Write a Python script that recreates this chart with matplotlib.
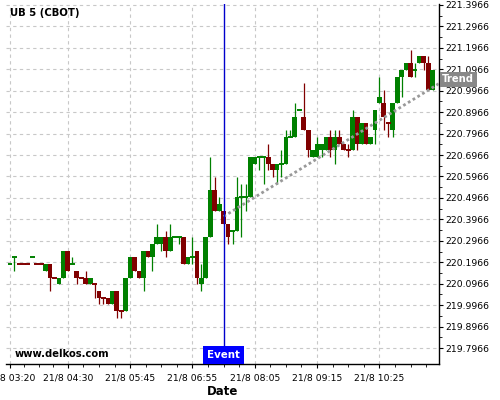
import matplotlib
matplotlib.use("Agg")
import matplotlib.pyplot as plt
import matplotlib.transforms as mtransforms
import numpy as np

# UB 5 (CBOT), 5 minute candles on 21/8, prices in 32nds above 220
opens = [6, 7, 6, 6, 6, 7, 6, 6, 5, 6,
         4, 3, 4, 8, 6, 5, 4, 4, 3, 3,
         2, 1, 1, 0, 2, -1, -1, 4, 7, 5,
         4, 8, 7, 9, 9, 10, 8, 10, 10, 10,
         6, 7, 8, 3, 4, 10, 17, 14, 14, 12,
         11, 11, 16, 16, 16, 21, 22, 22, 22, 21,
         20, 21, 21, 25, 25, 29, 28, 26, 22, 22,
         23, 23, 25, 23, 25, 24, 23, 23, 28, 24,
         27, 24, 26, 30, 30, 27, 26, 30, 34, 35,
         36, 35, 36, 37, 36, 32]
highs = [6, 7, 6, 6, 6, 7, 6, 6, 6, 6,
         4, 4, 8, 8, 7, 5, 4, 5, 4, 3,
         2, 1, 1, 2, 2, -1, 4, 7, 7, 5,
         8, 8, 9, 12, 10, 11, 12, 10, 10, 10,
         7, 10, 8, 6, 10, 22, 19, 16, 14, 12,
         11, 19, 18, 18, 22, 22, 22, 22, 24, 21,
         21, 23, 26, 26, 30, 29, 33, 26, 23, 25,
         24, 25, 26, 26, 26, 24, 24, 29, 28, 27,
         27, 25, 29, 34, 32, 27, 30, 34, 35, 36,
         38, 36, 37, 37, 37, 35]
lows = [6, 5, 6, 6, 6, 7, 6, 6, 5, 2,
        4, 3, 4, 5, 6, 3, 4, 3, 3, 1,
        0, 0, 0, 0, -2, -2, -1, 4, 5, 4,
        2, 7, 5, 9, 8, 7, 8, 10, 9, 6,
        6, 6, 3, 2, 4, 10, 14, 14, 12, 9,
        9, 11, 10, 14, 16, 21, 20, 18, 20, 19,
        18, 19, 21, 25, 25, 29, 26, 22, 22, 22,
        22, 23, 22, 21, 24, 23, 22, 23, 23, 24,
        24, 24, 24, 30, 26, 25, 25, 30, 31, 35,
        34, 34, 36, 35, 32, 32]
closes = [6, 7, 6, 6, 6, 7, 6, 6, 6, 4,
          4, 4, 8, 5, 6, 4, 4, 3, 4, 3,
          1, 1, 0, 2, -1, -1, 4, 7, 5, 4,
          8, 7, 9, 10, 10, 8, 10, 10, 10, 6,
          7, 7, 4, 4, 10, 17, 14, 15, 12, 10,
          11, 16, 16, 16, 22, 22, 22, 22, 21, 20,
          21, 21, 25, 25, 28, 29, 26, 23, 23, 24,
          24, 25, 23, 25, 24, 23, 23, 28, 24, 27,
          24, 25, 29, 31, 28, 27, 30, 34, 35, 36,
          34, 35, 37, 36, 32, 35]
# g = up candle, r = down candle (also colours the flat ones)
direction = ("ggrrrgrrgr" "rggrgrrrgr" "rrrgrrggrr" "grgggrgggr" "ggrgggrgrr"
             "ggggggggrr" "ggggggrrgg" "ggrgrrrgrg" "rgggrrgggg" "rggrrg")

tick_pos = [0, 13, 27, 41, 55, 69, 83]
tick_labels = ['21/8 03:20', '21/8 04:30', '21/8 05:45', '21/8 06:55',
               '21/8 08:05', '21/8 09:15', '21/8 10:25']
y_ticks = [219.7966 + 0.1 * k for k in range(17)]

event_idx = 48
trend_x = [48, 96.4]
trend_y = [220.41, 221.03]
trend_label_y = 221.049


def to_price(v):
    return 220 + np.asarray(v, dtype=float) / 32.0


fig = plt.figure(figsize=(5, 4), dpi=100)
ax = fig.add_axes([0.012, 0.09, 0.866, 0.9])

o, h, l, c = to_price(opens), to_price(highs), to_price(lows), to_price(closes)
x = np.arange(len(opens))
cols = ['#008000' if d == 'g' else '#800000' for d in direction]
w = 1.08

ax.vlines(x, l, h, colors=cols, linewidth=0.9, zorder=3)
body = np.abs(c - o)
flat = body == 0
ax.bar(x[~flat], body[~flat], bottom=np.minimum(o, c)[~flat], width=w,
       color=np.array(cols)[~flat], linewidth=0, zorder=4)
ax.hlines(c[flat], x[flat] - w / 2, x[flat] + w / 2,
          colors=np.array(cols)[flat], linewidth=1.4, zorder=4)

# trend and event
ax.plot(trend_x, trend_y, color='#999999', linewidth=2.0,
        linestyle=(0, (1, 1)), zorder=5)
ax.axvline(event_idx, color='#0000cc', linewidth=1.0, zorder=6)

ax.set_xlim(-0.9, 96.4)
ax.set_ylim(219.722, 221.401)

ax.set_xticks(tick_pos)
ax.set_xticklabels(tick_labels, fontsize=6.7)
minor = []
for a, b in zip(tick_pos[:-1], tick_pos[1:]):
    minor += [a + (b - a) * f for f in (0.25, 0.5, 0.75)]
minor += [83 + 14 * f for f in (0.25, 0.5, 0.75)]
ax.set_xticks(minor, minor=True)

ax.yaxis.tick_right()
ax.set_yticks(y_ticks)
ax.set_yticklabels([f'{v:.4f}' for v in y_ticks], fontsize=6.7)
ax.set_yticks([v + 0.05 for v in y_ticks[:-1]], minor=True)
ax.tick_params(axis='both', which='major', length=3, width=0.8, pad=1.5)
ax.tick_params(axis='x', which='major', pad=3.5)
ax.tick_params(axis='both', which='minor', length=2, width=0.6)

ax.grid(True, which='major', color='#c8c8c8', linestyle=(0, (3, 3)), linewidth=0.8)
ax.set_axisbelow(True)
for side in ('left', 'top'):
    ax.spines[side].set_visible(False)
ax.spines['bottom'].set_linewidth(1.0)
ax.spines['right'].set_linewidth(1.0)

ax.set_xlabel('Date', fontsize=8.5, fontweight='bold', labelpad=2)

ax.text(0.01, 0.975, 'UB 5 (CBOT)', transform=ax.transAxes, fontsize=7.3,
        fontweight='bold', ha='left', va='center')
ax.text(0.021, 0.028, 'www.delkos.com', transform=ax.transAxes, fontsize=7.2,
        fontweight='bold', ha='left', va='center')

tx = mtransforms.blended_transform_factory(ax.transData, ax.transAxes)
ax.text(event_idx, 0.011, 'Event', transform=tx, fontsize=7.4, fontweight='bold',
        color='white', ha='center', va='bottom', zorder=7,
        bbox=dict(boxstyle='square,pad=0.38', facecolor='#0000ff', edgecolor='none'))

ty = mtransforms.blended_transform_factory(ax.transAxes, ax.transData)
ax.text(1.007, trend_label_y, 'Trend', transform=ty, fontsize=7.2, fontweight='bold',
        color='white', ha='left', va='center', zorder=7, clip_on=False,
        bbox=dict(boxstyle='square,pad=0.25', facecolor='#888888', edgecolor='none'))

fig.savefig('out.png', dpi=100)
